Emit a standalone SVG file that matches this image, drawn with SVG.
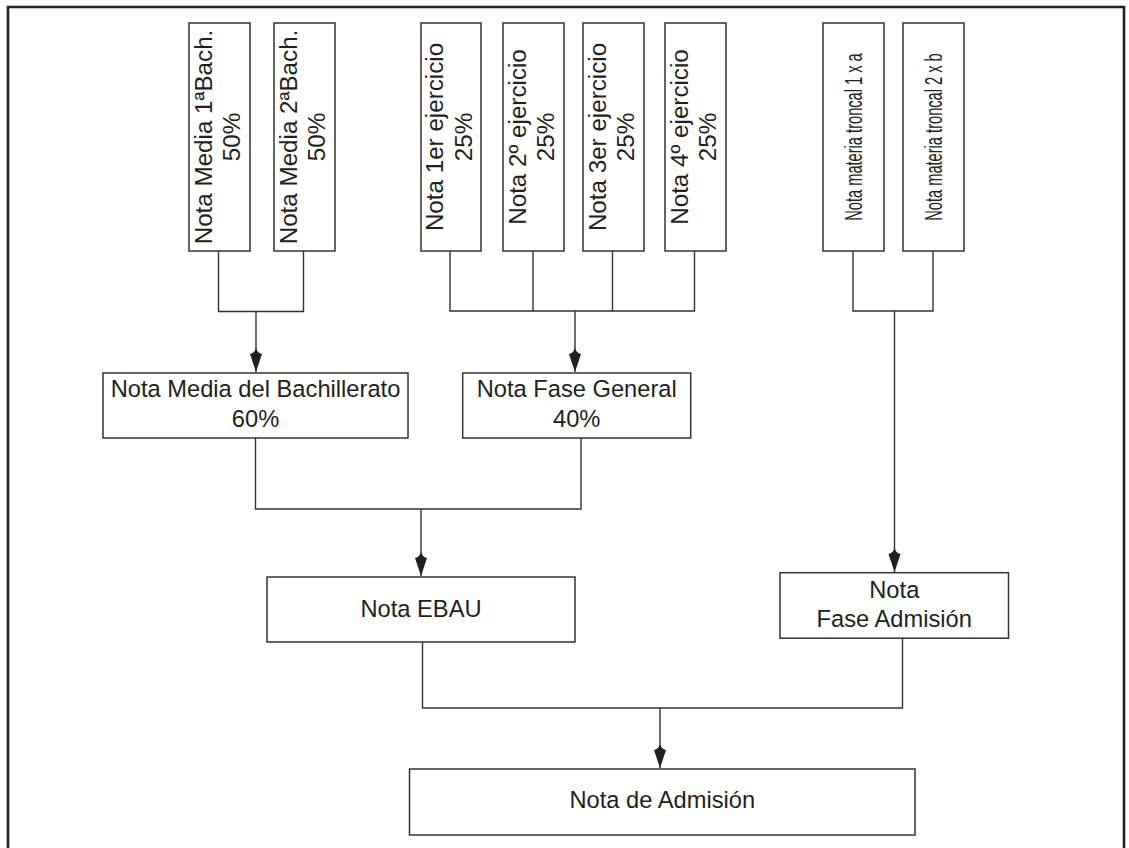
<svg xmlns="http://www.w3.org/2000/svg" width="1129" height="848" viewBox="0 0 1129 848">
<style>
.box{fill:#fff;stroke:#333;stroke-width:1.5}
.ln{fill:none;stroke:#333;stroke-width:1.4}
.t{font-family:"Liberation Sans",Arial,Helvetica,sans-serif;font-size:23.7px;fill:#231f20}
.tv{font-family:"Liberation Sans",Arial,Helvetica,sans-serif;font-size:24.2px;fill:#231f20}
.tc{font-family:"Liberation Sans",Arial,Helvetica,sans-serif;font-size:24px;fill:#231f20}
</style>
<defs>
<marker id="ah" markerUnits="userSpaceOnUse" viewBox="-26 -8 27 16" refX="0" refY="0" markerWidth="27" markerHeight="16" orient="auto">
<path d="M0,0 L-18,-6 Q-19,-1.2 -24,0 Q-19,1.2 -18,6 Z" fill="#231f20"/>
</marker>
</defs>
<rect width="1129" height="848" fill="#fff"/>
<path d="M8,850 V7 H1124 V850" fill="none" stroke="#222" stroke-width="2.6"/>

<g id="connectors">
<path class="ln" d="M218.5,251 V311.5 H303.5 V251"/>
<path class="ln" d="M256,311.5 V372" marker-end="url(#ah)"/>
<path class="ln" d="M450,251 V311 H694.5 V251 M533,251 V311 M612.5,251 V311"/>
<path class="ln" d="M575,311 V372" marker-end="url(#ah)"/>
<path class="ln" d="M853,251 V311 H933 V251"/>
<path class="ln" d="M894.5,311 V572" marker-end="url(#ah)"/>
<path class="ln" d="M255.5,438 V509 H581 V438"/>
<path class="ln" d="M421,509 V576" marker-end="url(#ah)"/>
<path class="ln" d="M422.5,642 V708 H902.5 V638"/>
<path class="ln" d="M660,708 V768" marker-end="url(#ah)"/>
</g>

<g id="n1"><rect class="box" x="189" y="23" width="61" height="228"/>
<text class="tv" text-anchor="middle" transform="translate(219.5,137) rotate(-90)"><tspan x="0" y="-8">Nota Media 1ªBach.</tspan><tspan x="0" y="20.5">50%</tspan></text></g>
<g id="n2"><rect class="box" x="274" y="23" width="61" height="228"/>
<text class="tv" text-anchor="middle" transform="translate(304.5,137) rotate(-90)"><tspan x="0" y="-8">Nota Media 2ªBach.</tspan><tspan x="0" y="20.5">50%</tspan></text></g>
<g id="n3"><rect class="box" x="421" y="23" width="60" height="228"/>
<text class="tv" text-anchor="middle" transform="translate(451,137) rotate(-90)"><tspan x="0" y="-8">Nota 1er ejercicio</tspan><tspan x="0" y="20.5">25%</tspan></text></g>
<g id="n4"><rect class="box" x="503" y="23" width="61" height="228"/>
<text class="tv" text-anchor="middle" transform="translate(533.5,137) rotate(-90)"><tspan x="0" y="-8">Nota 2º ejercicio</tspan><tspan x="0" y="20.5">25%</tspan></text></g>
<g id="n5"><rect class="box" x="583" y="23" width="61" height="228"/>
<text class="tv" text-anchor="middle" transform="translate(613.5,137) rotate(-90)"><tspan x="0" y="-8">Nota 3er ejercicio</tspan><tspan x="0" y="20.5">25%</tspan></text></g>
<g id="n6"><rect class="box" x="665" y="23" width="61" height="228"/>
<text class="tv" text-anchor="middle" transform="translate(695.5,137) rotate(-90)"><tspan x="0" y="-8">Nota 4º ejercicio</tspan><tspan x="0" y="20.5">25%</tspan></text></g>
<g id="n7"><rect class="box" x="823" y="23" width="61" height="228"/>
<text class="tc" text-anchor="middle" transform="translate(853.5,137) rotate(-90) scale(0.61,1)" x="0" y="8.5">Nota materia troncal 1 x a</text></g>
<g id="n8"><rect class="box" x="903" y="23" width="61" height="228"/>
<text class="tc" text-anchor="middle" transform="translate(933.5,137) rotate(-90) scale(0.61,1)" x="0" y="8.5">Nota materia troncal 2 x b</text></g>

<g id="n9"><rect class="box" x="103" y="373" width="305" height="65"/>
<text class="t" text-anchor="middle"><tspan x="255.5" y="397">Nota Media del Bachillerato</tspan><tspan x="255.5" y="426.5">60%</tspan></text></g>
<g id="n10"><rect class="box" x="462.7" y="373" width="228" height="65"/>
<text class="t" text-anchor="middle"><tspan x="576.7" y="397">Nota Fase General</tspan><tspan x="576.7" y="426.5">40%</tspan></text></g>
<g id="n11"><rect class="box" x="267" y="577" width="308" height="65"/>
<text class="t" text-anchor="middle" x="421" y="616.5">Nota EBAU</text></g>
<g id="n12"><rect class="box" x="780" y="572.7" width="228.5" height="65.5"/>
<text class="t" text-anchor="middle"><tspan x="894.3" y="598.3">Nota</tspan><tspan x="894.3" y="626.7">Fase Admisión</tspan></text></g>
<g id="n13"><rect class="box" x="409.5" y="769" width="505.5" height="66"/>
<text class="t" text-anchor="middle" x="662.3" y="808.3">Nota de Admisión</text></g>
</svg>
